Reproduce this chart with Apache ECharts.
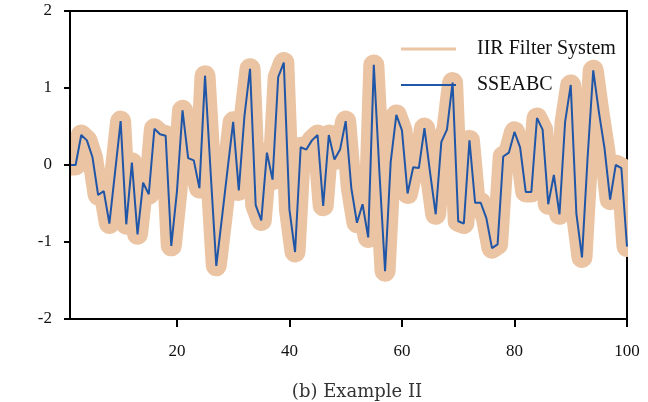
<!DOCTYPE html>
<html>
<head>
<meta charset="utf-8">
<script src="https://cdn.jsdelivr.net/npm/echarts@6/dist/echarts.min.js"></script>
<style>
  html, body { margin: 0; padding: 0; background: #fff; }
  #chart { width: 648px; height: 402px; }
</style>
</head>
<body>
<div id="chart"></div>
<script>
// sample values, one per step 1..100
const iirValues = [
  0, 0, 0.39, 0.32, 0.10, -0.39, -0.34, -0.76, -0.10, 0.57,
  -0.77, 0.03, -0.90, -0.23, -0.38, 0.47, 0.40, 0.38, -1.05, -0.35,
  0.71, 0.09, 0.06, -0.30, 1.16, -0.10, -1.31, -0.69, -0.06, 0.56,
  -0.33, 0.63, 1.25, -0.52, -0.72, 0.16, -0.19, 1.14, 1.33, -0.58,
  -1.13, 0.23, 0.20, 0.32, 0.39, -0.53, 0.39, 0.07, 0.20, 0.57,
  -0.30, -0.75, -0.51, -0.94, 1.30, -0.10, -1.38, 0.04, 0.65, 0.45,
  -0.37, -0.03, -0.04, 0.48, -0.10, -0.64, 0.30, 0.46, 1.07, -0.73,
  -0.76, 0.32, -0.49, -0.49, -0.69, -1.08, -1.03, 0.11, 0.16, 0.43,
  0.23, -0.35, -0.35, 0.61, 0.46, -0.51, -0.13, -0.64, 0.56, 1.04,
  -0.63, -1.20, 0.10, 1.23, 0.69, 0.22, -0.45, 0.00, -0.04, -1.06
];
// SSEABC output follows the IIR system closely
const sseabcValues = iirValues.slice();
const xTicks = [20, 40, 60, 80, 100];
const seriesNames = ['IIR Filter System', 'SSEABC'];

const toPairs = arr => arr.map((v, i) => [i + 1, v]);

const serif = '"Liberation Serif", "DejaVu Serif", serif';
const chart = echarts.init(document.getElementById('chart'));

chart.setOption({
    animation: false,
    grid: {
        left: 70, right: 21, top: 11, bottom: 83,
        show: true, borderColor: '#000', borderWidth: 2
    },
    title: {
        text: '(b) Example II',
        left: 352, top: 378, textAlign: 'center',
        textStyle: {fontFamily: '"DejaVu Serif", serif', fontSize: 18, fontWeight: 'normal', color: '#333'}
    },
    legend: [
        {
            data: [seriesNames[0]], left: 396, top: 34,
            icon: 'rect', itemWidth: 55, itemHeight: 3,
            textStyle: {fontFamily: serif, fontSize: 20, color: '#111', padding: [0, 0, 0, 16]}
        },
        {
            data: [seriesNames[1]], left: 396, top: 70,
            icon: 'rect', itemWidth: 55, itemHeight: 2,
            textStyle: {fontFamily: serif, fontSize: 20, color: '#111', padding: [0, 0, 0, 16]}
        }
    ],
    // masks so the thick band is cut at the frame like in the figure
    graphic: [
        {type: 'rect', z: 5, silent: true, shape: {x: 54, y: 0, width: 15, height: 402}, style: {fill: '#fff'}},
        {type: 'rect', z: 5, silent: true, shape: {x: 628, y: 0, width: 20, height: 402}, style: {fill: '#fff'}}
    ],
    xAxis: {
        type: 'value', min: 1, max: 100, z: 10,
        axisLine: {onZero: false, lineStyle: {color: '#000', width: 2}},
        axisTick: {show: true, length: 8, lineStyle: {color: '#000', width: 2}, customValues: xTicks},
        axisLabel: {fontFamily: serif, fontSize: 17, color: '#111', margin: 24, customValues: xTicks},
        splitLine: {show: false}
    },
    yAxis: {
        type: 'value', min: -2, max: 2, interval: 1, z: 10,
        axisLine: {show: true, onZero: false, lineStyle: {color: '#000', width: 2}},
        axisTick: {show: true, length: 6, lineStyle: {color: '#000', width: 2}},
        axisLabel: {fontFamily: serif, fontSize: 17, color: '#111', margin: 18},
        splitLine: {show: false}
    },
    series: [
        {
            name: seriesNames[0], type: 'line', data: toPairs(iirValues),
            showSymbol: false, symbol: 'none', color: '#EBC4A3',
            lineStyle: {width: 21, color: '#EBC4A3', join: 'round', cap: 'round'}
        },
        {
            name: seriesNames[1], type: 'line', data: toPairs(sseabcValues),
            showSymbol: false, symbol: 'none', color: '#1F56A8',
            lineStyle: {width: 2, color: '#1F56A8'}
        }
    ]
});
</script>
</body>
</html>
